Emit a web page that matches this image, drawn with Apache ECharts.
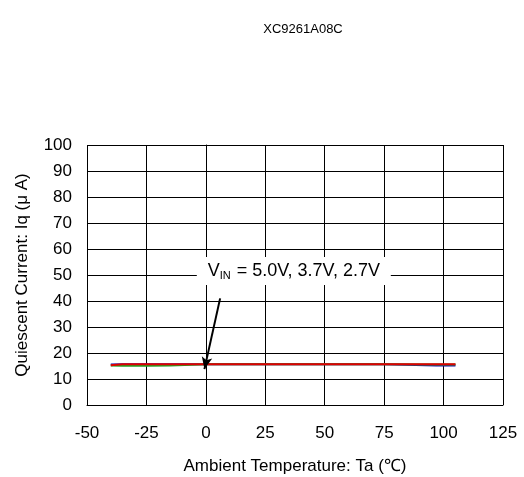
<!DOCTYPE html>
<html>
<head>
<meta charset="utf-8">
<script src="https://cdn.jsdelivr.net/npm/echarts@6/dist/echarts.min.js"></script>
<style>html,body{margin:0;padding:0;background:#fff;}#c{width:524px;height:477px;}</style>
</head>
<body>
<div id="c"></div>
<script>
const chartTitle = 'XC9261A08C';
const xName = 'Ambient Temperature: Ta (\u2103)';
const yName = 'Quiescent Current: Iq (\u03bc A)';
const xTicks = [-50, -25, 0, 25, 50, 75, 100, 125];
const yTicks = [0, 10, 20, 30, 40, 50, 60, 70, 80, 90, 100];

const temps = [-40, -35, -25, -15, 0, 25, 50, 75, 97, 105];
const vin50 = [15.3, 15.7, 15.7, 15.7, 15.7, 15.7, 15.7, 15.7, 15.7, 15.7];
const vin37 = [15.2, 15.1, 15.1, 15.2, 15.7, 15.7, 15.7, 15.7, 15.6, 15.6];
const vin27 = [15.6, 15.7, 15.7, 15.7, 15.7, 15.7, 15.7, 15.7, 15.2, 15.2];

const arrowFrom = [6, 41];
const arrowTo = [-0.6, 13.8];
const labelAt = [37, 51.5];

const pairs = (xs, ys) => xs.map((x, i) => [x, ys[i]]);
const FONT = 'Liberation Sans';

const chart = echarts.init(document.getElementById('c'));
chart.setOption({
  animation: false,
  backgroundColor: '#fff',
  title: {
    text: chartTitle, left: 298, top: 18, textAlign: 'center',
    textStyle: { fontFamily: FONT, fontSize: 13, fontWeight: 'normal', color: '#000' }
  },
  grid: { left: 87, right: 21, top: 145, bottom: 72, containLabel: false, outerBoundsMode: 'none' },
  xAxis: {
    type: 'value', min: -50, max: 125, interval: 25,
    name: xName, nameLocation: 'middle', nameGap: 53,
    nameTextStyle: { fontFamily: FONT, fontSize: 17, color: '#000' },
    axisLine: { show: true, lineStyle: { color: '#000', width: 1 } },
    axisTick: { show: false },
    axisLabel: { fontFamily: FONT, fontSize: 17, color: '#000', margin: 20,
      formatter: v => xTicks.includes(v) ? String(v) : '' },
    splitLine: { show: true, lineStyle: { color: '#000', width: 1 } }
  },
  yAxis: {
    type: 'value', min: 0, max: 100, interval: 10,
    name: yName, nameLocation: 'middle', nameGap: 56,
    nameTextStyle: { fontFamily: FONT, fontSize: 17, color: '#000' },
    axisLine: { show: true, lineStyle: { color: '#000', width: 1 } },
    axisTick: { show: false },
    axisLabel: { fontFamily: FONT, fontSize: 17, color: '#000', margin: 15,
      formatter: v => yTicks.includes(v) ? String(v) : '' },
    splitLine: { show: true, lineStyle: { color: '#000', width: 1 } }
  },
  series: [
    { type: 'line', name: 'VIN=2.7V', data: pairs(temps, vin27), symbol: 'none',
      lineStyle: { color: '#1010b0', width: 2 }, z: 2 },
    { type: 'line', name: 'VIN=3.7V', data: pairs(temps, vin37), symbol: 'none',
      lineStyle: { color: '#20a020', width: 2 }, z: 3 },
    { type: 'line', name: 'VIN=5.0V', data: pairs(temps, vin50), symbol: 'none',
      lineStyle: { color: '#e00000', width: 2 }, z: 4,
      markLine: {
        silent: true, symbol: ['none', 'arrow'], symbolSize: [8, 12],
        lineStyle: { color: '#000', width: 2, type: 'solid' },
        label: { show: false },
        data: [[{ coord: arrowFrom }, { coord: arrowTo }]]
      },
      markPoint: {
        silent: true, symbol: 'rect', symbolSize: [194, 28],
        itemStyle: { color: '#fff' },
        label: {
          show: true, position: 'inside',
          formatter: '{v|V}{s|IN}{v| = 5.0V, 3.7V, 2.7V}',
          rich: {
            v: { fontFamily: FONT, fontSize: 18, color: '#000' },
            s: { fontFamily: FONT, fontSize: 11, color: '#000', verticalAlign: 'bottom', padding: [9, 1, 0, 0] }
          }
        },
        data: [{ coord: labelAt }]
      }
    }
  ]
});
</script>
</body>
</html>
